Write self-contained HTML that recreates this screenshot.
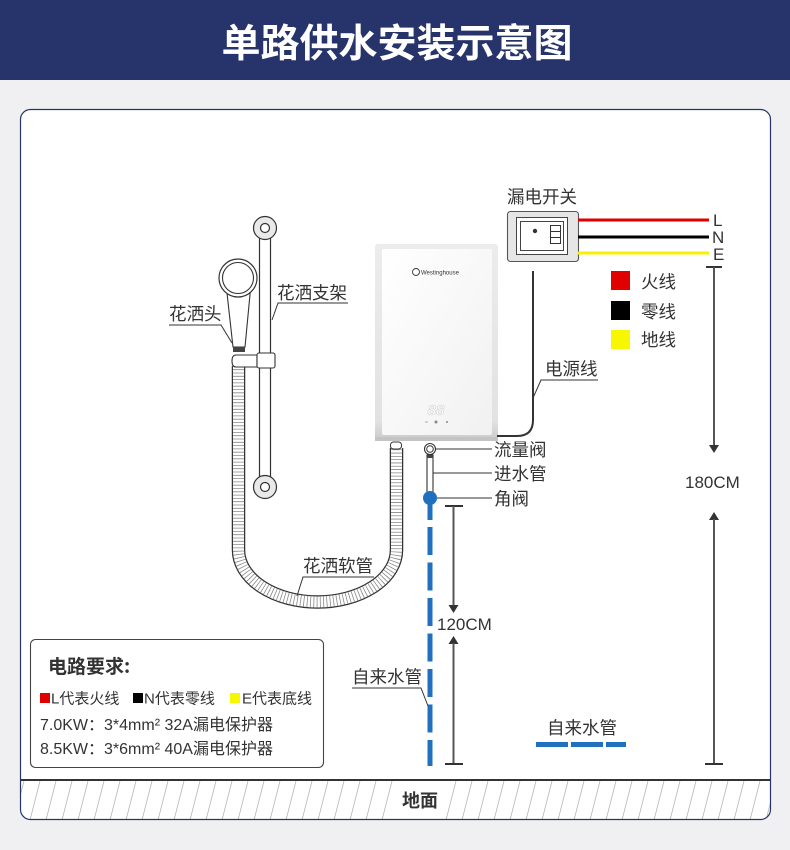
<!DOCTYPE html>
<html><head><meta charset="utf-8">
<style>
html,body{margin:0;padding:0;background:#f0f0f3;}
svg{display:block;}
text{font-family:"Liberation Sans","Noto Sans CJK SC",sans-serif;fill:#333;}
.cjk{font-family:"Noto Sans CJK SC","Liberation Sans",sans-serif;}
</style></head>
<body>
<svg width="790" height="850" viewBox="0 0 790 850" xmlns="http://www.w3.org/2000/svg">
<defs>
  <clipPath id="card"><rect x="20.5" y="109.5" width="750" height="710" rx="10"/></clipPath>
  <linearGradient id="hb" x1="0" y1="0" x2="0" y2="1">
    <stop offset="0" stop-color="#ececec"/><stop offset="0.9" stop-color="#e2e2e2"/><stop offset="1" stop-color="#c9c9c9"/>
  </linearGradient>
  <linearGradient id="hf" x1="0" y1="0" x2="1" y2="1">
    <stop offset="0" stop-color="#ffffff"/><stop offset="1" stop-color="#f1f1f1"/>
  </linearGradient>
</defs>

<!-- header -->
<rect x="0" y="0" width="790" height="80" fill="#26346b"/>
<text x="397" y="57" text-anchor="middle" class="cjk" font-size="39" font-weight="bold" style="fill:#fff">单路供水安装示意图</text>

<!-- card -->
<rect x="20.5" y="109.5" width="750" height="710" rx="10" fill="#fff"/>
<g clip-path="url(#card)" stroke="#b5b5b5" stroke-width="0.8">
  <path d="M14,820 L24,781 M30,820 L40,781 M46,820 L56,781 M62,820 L72,781 M78,820 L88,781 M94,820 L104,781 M110,820 L120,781 M126,820 L136,781 M142,820 L152,781 M158,820 L168,781 M174,820 L184,781 M190,820 L200,781 M206,820 L216,781 M222,820 L232,781 M238,820 L248,781 M254,820 L264,781 M270,820 L280,781 M286,820 L296,781 M302,820 L312,781 M318,820 L328,781 M334,820 L344,781 M350,820 L360,781 M366,820 L376,781 M382,820 L392,781 M446,820 L456,781 M462,820 L472,781 M478,820 L488,781 M494,820 L504,781 M510,820 L520,781 M526,820 L536,781 M542,820 L552,781 M558,820 L568,781 M574,820 L584,781 M590,820 L600,781 M606,820 L616,781 M622,820 L632,781 M638,820 L648,781 M654,820 L664,781 M670,820 L680,781 M686,820 L696,781 M702,820 L712,781 M718,820 L728,781 M734,820 L744,781 M750,820 L760,781 M766,820 L776,781"/>
</g>
<line x1="20" y1="780" x2="771" y2="780" stroke="#333" stroke-width="2"/>
<rect x="20.5" y="109.5" width="750" height="710" rx="10" fill="none" stroke="#26346b" stroke-width="1.2"/>
<text x="420" y="807" text-anchor="middle" class="cjk" font-size="18" font-weight="bold">地面</text>

<!-- rail -->
<rect x="259.5" y="228" width="11" height="259" fill="#fff" stroke="#333" stroke-width="1.2"/>
<circle cx="265" cy="228" r="11.5" fill="#e9e9e9" stroke="#333" stroke-width="1.2"/>
<circle cx="265" cy="228" r="4.5" fill="#fff" stroke="#333" stroke-width="1.2"/>
<circle cx="265" cy="487" r="11.5" fill="#e9e9e9" stroke="#333" stroke-width="1.2"/>
<circle cx="265" cy="487" r="4.5" fill="#fff" stroke="#333" stroke-width="1.2"/>

<!-- hose -->
<path d="M238.5,366 V550 A79,52 0 0,0 396.5,550 V448" fill="none" stroke="#333" stroke-width="13.5"/>
<path d="M238.5,366 V550 A79,52 0 0,0 396.5,550 V448" fill="none" stroke="#fff" stroke-width="11"/>
<path d="M238.5,366 V550 A79,52 0 0,0 396.5,550 V448" fill="none" stroke="#8a8a8a" stroke-width="11" stroke-dasharray="0.8 2.5"/>

<!-- shower head -->
<path d="M226,284 L233,347 L245,347 L251,284 Z" fill="#fff" stroke="#333" stroke-width="1.1"/>
<circle cx="238" cy="278" r="19" fill="#fff" stroke="#333" stroke-width="1.2"/>
<circle cx="238" cy="278" r="15.5" fill="#fff" stroke="#333" stroke-width="1.1"/>
<rect x="233" y="347" width="12" height="5" fill="#444"/>
<path d="M236,355 H257 V367 H236 Q232,367 232,361 Q232,355 236,355 Z" fill="#fff" stroke="#333" stroke-width="1.1"/>
<rect x="257" y="353" width="18" height="15" rx="2" fill="#fff" stroke="#333" stroke-width="1.1"/>

<!-- labels shower -->
<text x="169" y="320" class="cjk" font-size="17.5">花洒头</text>
<polyline points="169,325 221,325 232,343" fill="none" stroke="#333" stroke-width="1"/>
<text x="277" y="299" class="cjk" font-size="17.5">花洒支架</text>
<polyline points="348,303 278,303 272,320" fill="none" stroke="#333" stroke-width="1"/>
<text x="303" y="572" class="cjk" font-size="17.5">花洒软管</text>
<polyline points="374,577 303,577 297,596" fill="none" stroke="#333" stroke-width="1"/>

<!-- heater -->
<rect x="375" y="244" width="123" height="197" rx="3" fill="url(#hb)"/>
<rect x="382" y="249" width="110" height="186" rx="2" fill="url(#hf)"/>
<rect x="375" y="437" width="123" height="4" fill="#c4c4c4"/>
<circle cx="416" cy="272" r="3.5" fill="#fff" stroke="#333" stroke-width="0.9"/>
<text x="421" y="274.5" font-size="6" style="fill:#333">Westinghouse</text>
<text x="436" y="415" text-anchor="middle" font-size="15" font-style="italic" font-weight="bold" style="fill:#fff;stroke:#cfcfcf;stroke-width:0.6">88</text>
<line x1="425" y1="422" x2="428" y2="422" stroke="#999" stroke-width="0.8"/>
<circle cx="436" cy="422" r="1.5" fill="#888"/>
<circle cx="447" cy="422" r="1" fill="#888"/>

<!-- heater bottom connectors -->
<rect x="390.5" y="442" width="11" height="7" rx="3" fill="#fff" stroke="#333" stroke-width="1"/>

<!-- power cable -->
<path d="M533,271 V420 Q533,436 517,436 H497" fill="none" stroke="#333" stroke-width="2"/>
<text x="545" y="375" class="cjk" font-size="17.5">电源线</text>
<polyline points="598,380 541,380 533,398" fill="none" stroke="#333" stroke-width="1"/>

<!-- inlet pipe & valves -->
<rect x="427" y="455" width="6" height="38" fill="#fff" stroke="#333" stroke-width="1.1"/>
<rect x="427" y="455" width="6" height="3" fill="#444"/>
<circle cx="430" cy="449" r="5.5" fill="#fff" stroke="#333" stroke-width="1.1"/>
<circle cx="430" cy="449" r="3.3" fill="#fff" stroke="#333" stroke-width="1"/>
<line x1="430" y1="498" x2="430" y2="520" stroke="#2170c0" stroke-width="5"/>
<line x1="430" y1="527" x2="430" y2="766" stroke="#2170c0" stroke-width="5" stroke-dasharray="28 7.5"/>
<circle cx="430" cy="498" r="7" fill="#2170c0"/>

<line x1="436" y1="449" x2="492" y2="449" stroke="#333" stroke-width="1.1"/>
<line x1="433" y1="473" x2="492" y2="473" stroke="#333" stroke-width="1.1"/>
<line x1="437" y1="498" x2="492" y2="498" stroke="#333" stroke-width="1.1"/>
<text x="494" y="456" class="cjk" font-size="17.5">流量阀</text>
<text x="494" y="480" class="cjk" font-size="17.5">进水管</text>
<text x="494" y="505" class="cjk" font-size="17.5">角阀</text>

<!-- 120CM -->
<line x1="445" y1="506" x2="463" y2="506" stroke="#333" stroke-width="2"/>
<line x1="453.5" y1="506" x2="453.5" y2="606" stroke="#555" stroke-width="2"/>
<path d="M448.5,605 L458.5,605 L453.5,613 Z" fill="#333"/>
<text x="437" y="630" font-size="17">120CM</text>
<path d="M448.5,644 L458.5,644 L453.5,636 Z" fill="#333"/>
<line x1="453.5" y1="643" x2="453.5" y2="764" stroke="#555" stroke-width="2"/>
<line x1="445" y1="764" x2="463" y2="764" stroke="#333" stroke-width="2"/>

<!-- 自来水管 labels -->
<text x="352" y="683" class="cjk" font-size="17.5">自来水管</text>
<polyline points="352,688 421,688 428,706" fill="none" stroke="#333" stroke-width="1"/>
<text x="547" y="734" class="cjk" font-size="17.5">自来水管</text>
<rect x="536" y="742" width="32" height="5" fill="#2170c0"/>
<rect x="571" y="742" width="32" height="5" fill="#2170c0"/>
<rect x="606" y="742" width="20" height="5" fill="#2170c0"/>

<!-- leakage switch -->
<text x="507" y="203" class="cjk" font-size="17.5">漏电开关</text>
<rect x="507.5" y="211.5" width="71" height="50" rx="3" fill="#e6e6e6" stroke="#555" stroke-width="1.1"/>
<rect x="516.5" y="217.5" width="51" height="37" fill="#fff" stroke="#444" stroke-width="1"/>
<rect x="520.5" y="221.5" width="43" height="29" fill="#fff" stroke="#444" stroke-width="1"/>
<circle cx="535" cy="231" r="2.2" fill="#333"/>
<rect x="550.5" y="225.5" width="10" height="18" fill="#fff" stroke="#333" stroke-width="1"/>
<line x1="550.5" y1="231.5" x2="560.5" y2="231.5" stroke="#333" stroke-width="1"/>
<line x1="550.5" y1="237.5" x2="560.5" y2="237.5" stroke="#333" stroke-width="1"/>

<line x1="578" y1="220" x2="709" y2="220" stroke="#e00000" stroke-width="3"/>
<line x1="578" y1="237" x2="709" y2="237" stroke="#000" stroke-width="3"/>
<line x1="578" y1="253" x2="709" y2="253" stroke="#f7f000" stroke-width="3"/>
<text x="713" y="226" font-size="17">L</text>
<text x="712" y="243" font-size="17">N</text>
<text x="713" y="260" font-size="17">E</text>

<!-- color legend -->
<rect x="611" y="271" width="19" height="19" fill="#e00000"/>
<rect x="611" y="301" width="19" height="19" fill="#000"/>
<rect x="611" y="330" width="19" height="19" fill="#f7f700"/>
<text x="641" y="288" class="cjk" font-size="17.5">火线</text>
<text x="641" y="318" class="cjk" font-size="17.5">零线</text>
<text x="641" y="346" class="cjk" font-size="17.5">地线</text>

<!-- 180CM -->
<line x1="706" y1="267" x2="722" y2="267" stroke="#333" stroke-width="2"/>
<line x1="714" y1="267" x2="714" y2="446" stroke="#555" stroke-width="2"/>
<path d="M709,445 L719,445 L714,453 Z" fill="#333"/>
<text x="685" y="488" font-size="17">180CM</text>
<path d="M709,520 L719,520 L714,512 Z" fill="#333"/>
<line x1="714" y1="519" x2="714" y2="764" stroke="#555" stroke-width="2"/>
<line x1="705" y1="764" x2="723" y2="764" stroke="#333" stroke-width="2"/>

<!-- requirements box -->
<rect x="30.5" y="639.5" width="293" height="128" rx="5" fill="#fff" stroke="#444" stroke-width="1.1"/>
<text x="48" y="673" class="cjk" font-size="19" font-weight="bold">电路要求:</text>
<rect x="40" y="693" width="10" height="10" fill="#e00000"/>
<text x="51" y="703.5" font-size="15">L代表火线</text>
<rect x="133" y="693" width="10" height="10" fill="#000"/>
<text x="144" y="703.5" font-size="15">N代表零线</text>
<rect x="230" y="693" width="10" height="10" fill="#f7f700"/>
<text x="242" y="703.5" font-size="15">E代表底线</text>
<text x="40" y="730" font-size="16">7.0KW：3*4mm² 32A漏电保护器</text>
<text x="40" y="754" font-size="16">8.5KW：3*6mm² 40A漏电保护器</text>
</svg>
</body></html>
